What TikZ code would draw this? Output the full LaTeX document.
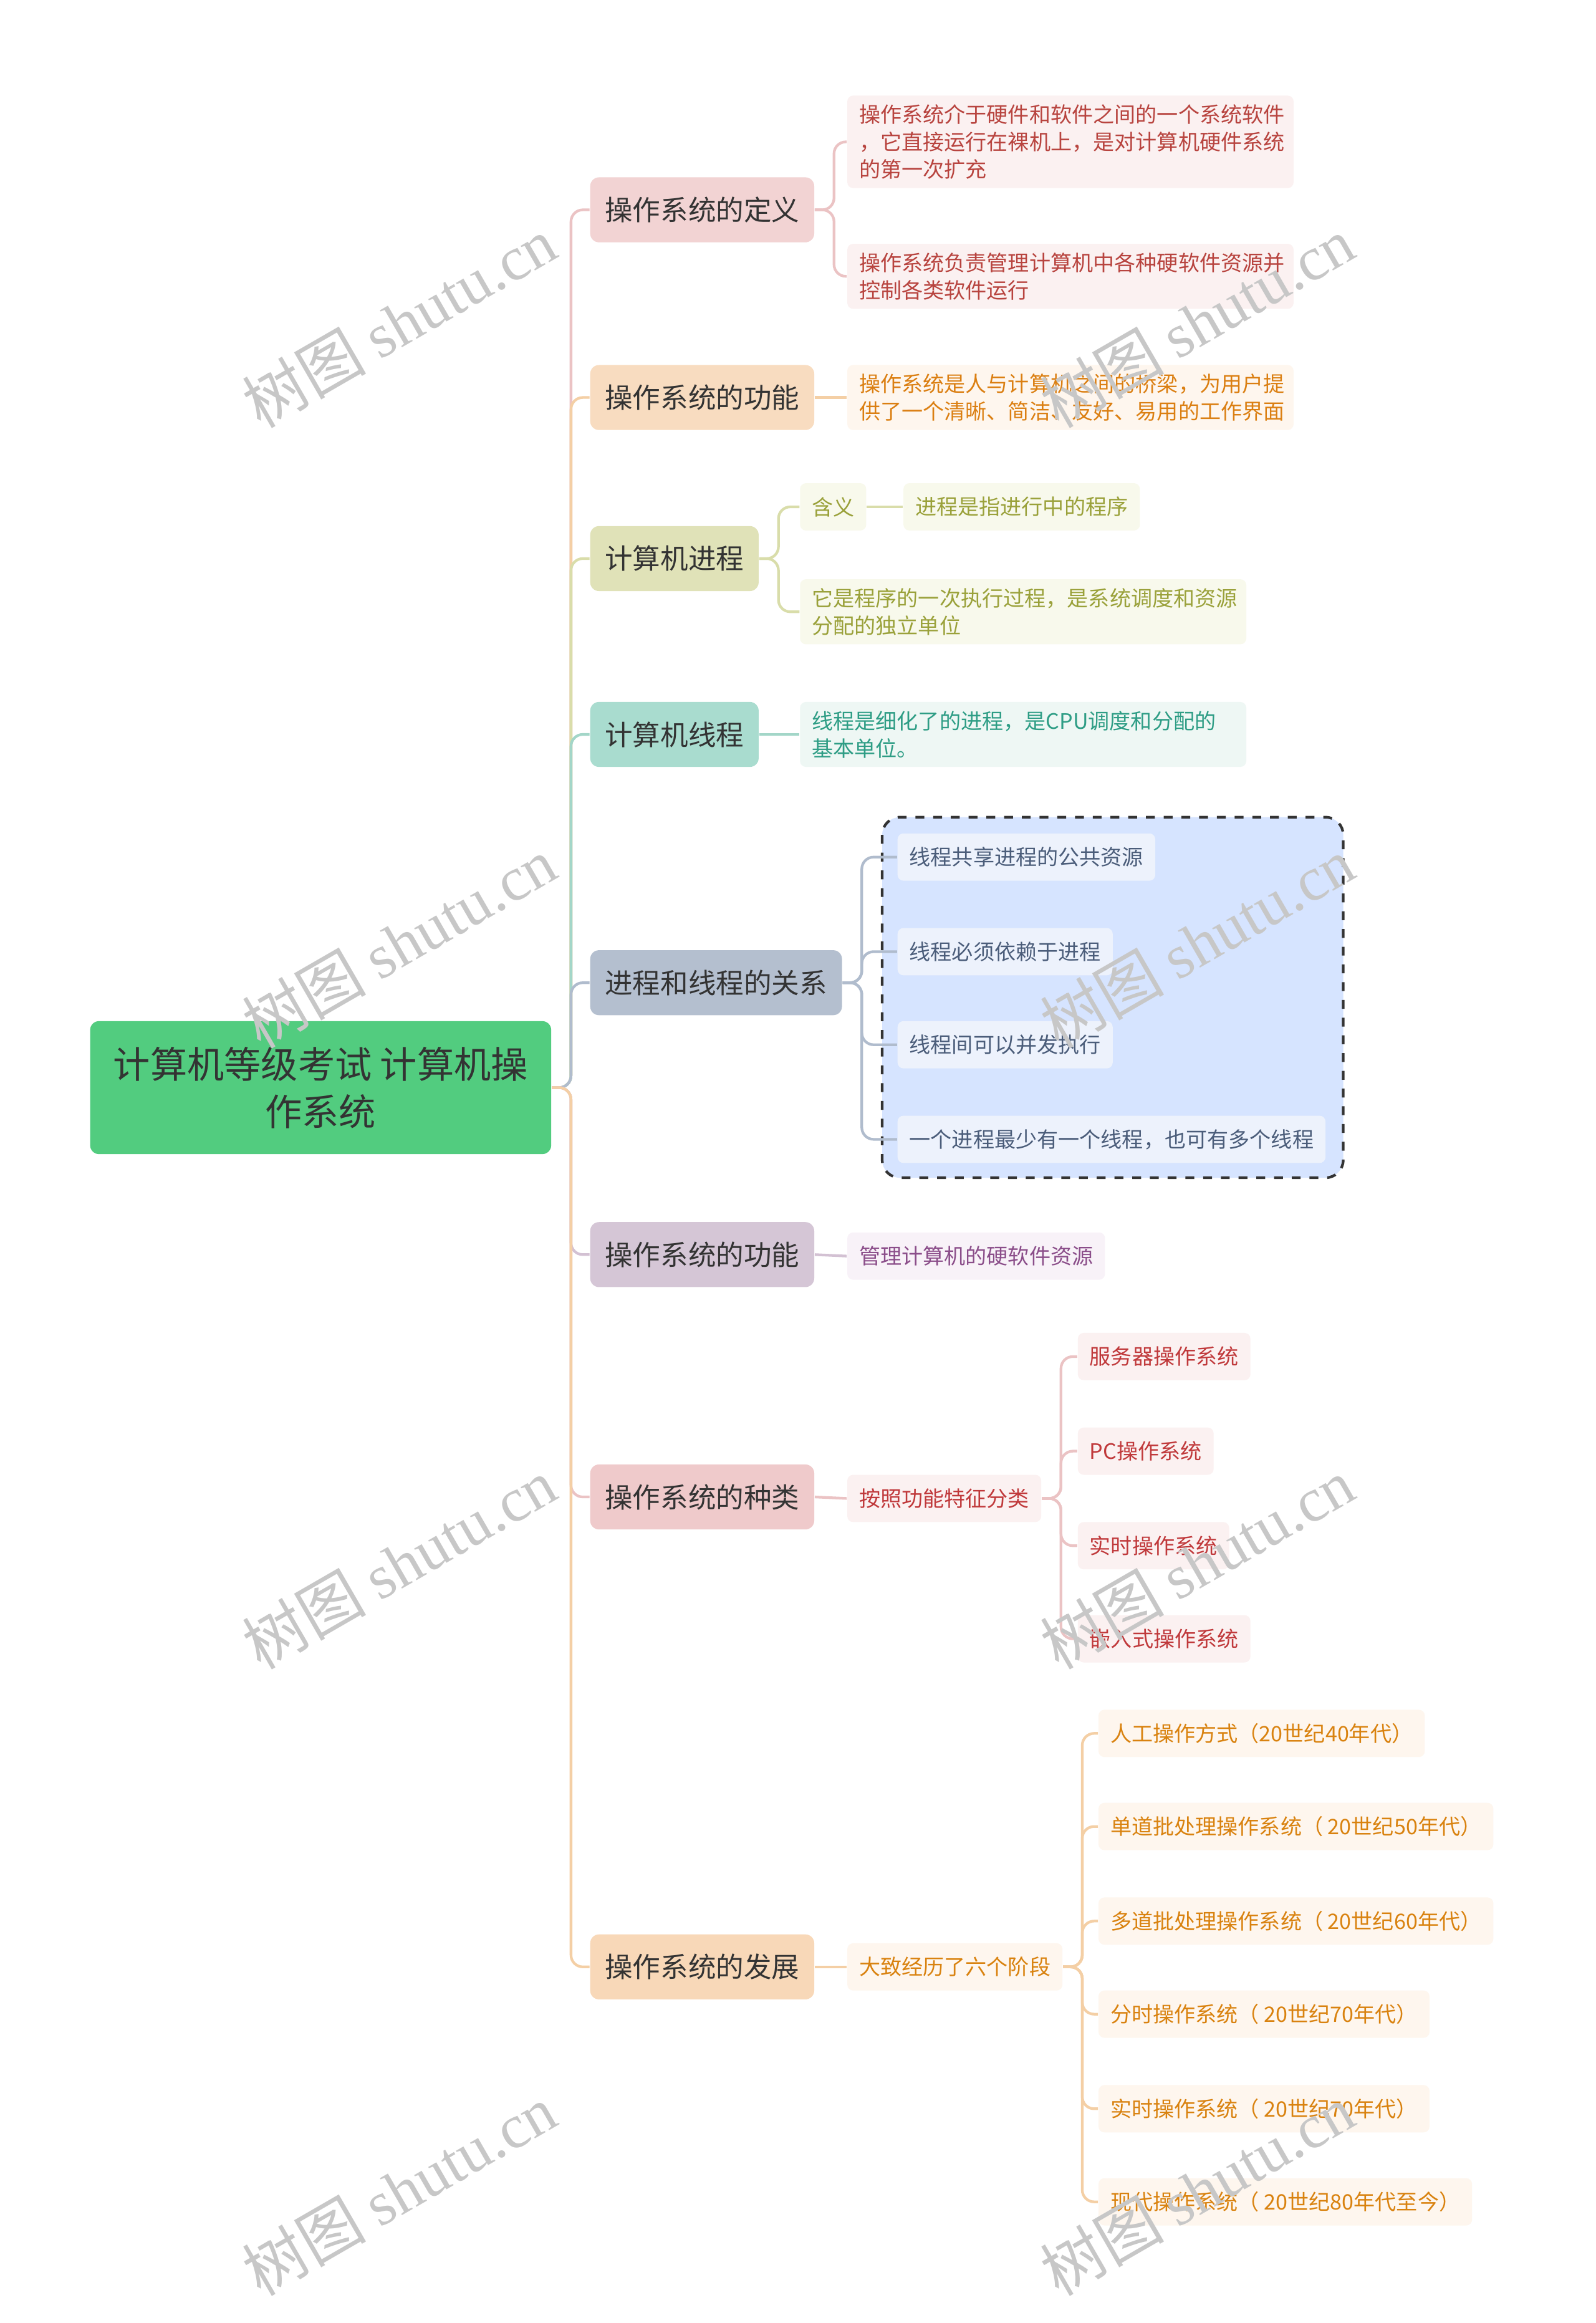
\documentclass[tikz,border=0pt]{standalone}
\usepackage{fontspec}
\setmainfont{Noto Sans CJK SC}
\newfontfamily\wmserif{Liberation Serif}
\definecolor{rootg}{HTML}{52CC7F}
\definecolor{fA}{HTML}{F2D3D3}\definecolor{lA}{HTML}{EBC3C4}\definecolor{tA}{HTML}{B8443F}\definecolor{bA}{HTML}{FBF1F1}
\definecolor{fB}{HTML}{F8DCC0}\definecolor{lB}{HTML}{F4CFA5}\definecolor{tB}{HTML}{DB7F12}\definecolor{bB}{HTML}{FEF6EE}
\definecolor{fC}{HTML}{E0E2B8}\definecolor{lC}{HTML}{D9DDAA}\definecolor{tC}{HTML}{9AA13A}\definecolor{bC}{HTML}{F8F9EC}
\definecolor{fD}{HTML}{A9DCCF}\definecolor{lD}{HTML}{A3D6C8}\definecolor{tD}{HTML}{2E9D85}\definecolor{bD}{HTML}{EEF7F4}
\definecolor{fE}{HTML}{B4BFCF}\definecolor{lE}{HTML}{B0BCCD}\definecolor{tE}{HTML}{4B5D7A}\definecolor{bE}{HTML}{EDF2FC}\definecolor{grp}{HTML}{D6E4FF}
\definecolor{fF}{HTML}{D5C6D6}\definecolor{lF}{HTML}{D3C1D3}\definecolor{tF}{HTML}{8B4E8A}\definecolor{bF}{HTML}{F8F2F8}
\definecolor{fG}{HTML}{EFCACB}\definecolor{lG}{HTML}{EBC3C4}\definecolor{tG}{HTML}{C0393B}\definecolor{bG}{HTML}{FBF1F1}
\definecolor{fH}{HTML}{F8D8B8}\definecolor{lH}{HTML}{F4CFA5}\definecolor{tH}{HTML}{D9820F}\definecolor{bH}{HTML}{FEF6EE}
\tikzset{
 child/.style={anchor=west,rounded corners=3pt,minimum height=22pt,inner xsep=5pt,font=\fontsize{9.4}{11}\selectfont,text=black!80},
 leaf/.style={anchor=west,rounded corners=2pt,minimum height=16pt,inner xsep=4pt,inner ysep=3pt,font=\fontsize{7.2}{9.3}\selectfont,align=left},
 conn/.style={line width=0.9pt,rounded corners=4pt},
 wm/.style={text=black!22,font=\fontsize{21}{21}\selectfont,rotate=30}
}
\begin{document}
\begin{tikzpicture}[x=0.5pt,y=-0.5pt]
\useasboundingbox (0,0) rectangle (1080,1572);
\fill[white] (0,0) rectangle (1080,1572);
\draw[fill=grp,dashed,line width=0.9pt,rounded corners=6pt,draw=black!80] (597,553) rectangle (909,797);
\node[fill=rootg,rounded corners=3pt,minimum width=156pt,minimum height=45pt,align=center,font=\fontsize{12.5}{16}\selectfont,text=black!80] (root) at (217,736) {计算机等级考试 计算机操\\作系统};
\node[child,fill=fA] (c1) at (399,142) {操作系统的定义};
\node[child,fill=fB] (c2) at (399,269) {操作系统的功能};
\node[child,fill=fC] (c3) at (399,378) {计算机进程};
\node[child,fill=fD] (c4) at (399,497) {计算机线程};
\node[child,fill=fE] (c5) at (399,665) {进程和线程的关系};
\node[child,fill=fF] (c6) at (399,849) {操作系统的功能};
\node[child,fill=fG] (c7) at (399,1013) {操作系统的种类};
\node[child,fill=fH] (c8) at (399,1331) {操作系统的发展};
\foreach \c/\l in {c1/lA,c2/lB,c3/lC,c4/lD,c5/lE,c6/lF,c7/lG,c8/lH}
  \draw[conn,draw=\l] (root.east) -- ++(13,0) |- (\c.west);
\node[leaf,fill=bA,text=tA,text width=143pt] (a1) at (573,96) {操作系统介于硬件和软件之间的一个系统软件\\，它直接运行在裸机上，是对计算机硬件系统\\的第一次扩充};
\node[leaf,fill=bA,text=tA,text width=143pt] (a2) at (573,187) {操作系统负责管理计算机中各种硬软件资源并\\控制各类软件运行};
\foreach \n in {a1,a2} \draw[conn,draw=lA] (c1.east) -- ++(13,0) |- (\n.west);
\node[leaf,fill=bB,text=tB,text width=143pt] (b1) at (573,269) {操作系统是人与计算机之间的桥梁，为用户提\\供了一个清晰、简洁、友好、易用的工作界面};
\draw[conn,draw=lB] (c2.east) -- (b1.west);
\node[leaf,fill=bC,text=tC] (k1) at (541,343) {含义};
\node[leaf,fill=bC,text=tC] (k2) at (611,343) {进程是指进行中的程序};
\node[leaf,fill=bC,text=tC,text width=143pt] (k3) at (541,414) {它是程序的一次执行过程，是系统调度和资源\\分配的独立单位};
\foreach \n in {k1,k3} \draw[conn,draw=lC] (c3.east) -- ++(13,0) |- (\n.west);
\draw[conn,draw=lC] (k1.east) -- (k2.west);
\node[leaf,fill=bD,text=tD,text width=143pt] (d1) at (541,497) {线程是细化了的进程，是CPU调度和分配的\\基本单位。};
\draw[conn,draw=lD] (c4.east) -- (d1.west);
\node[leaf,fill=bE,text=tE] (e1) at (607,580) {线程共享进程的公共资源};
\node[leaf,fill=bE,text=tE] (e2) at (607,644) {线程必须依赖于进程};
\node[leaf,fill=bE,text=tE] (e3) at (607,707) {线程间可以并发执行};
\node[leaf,fill=bE,text=tE] (e4) at (607,771) {一个进程最少有一个线程，也可有多个线程};
\foreach \n in {e1,e2,e3,e4} \draw[conn,draw=lE] (c5.east) -- ++(13,0) |- (\n.west);
\node[leaf,fill=bF,text=tF] (f1) at (573,850) {管理计算机的硬软件资源};
\draw[conn,draw=lF] (c6.east) -- (f1.west);
\node[leaf,fill=bG,text=tG] (g0) at (573,1014) {按照功能特征分类};
\draw[conn,draw=lG] (c7.east) -- (g0.west);
\node[leaf,fill=bG,text=tG] (g1) at (729,918) {服务器操作系统};
\node[leaf,fill=bG,text=tG] (g2) at (729,982) {PC操作系统};
\node[leaf,fill=bG,text=tG] (g3) at (729,1046) {实时操作系统};
\node[leaf,fill=bG,text=tG] (g4) at (729,1109) {嵌入式操作系统};
\foreach \n in {g1,g2,g3,g4} \draw[conn,draw=lG] (g0.east) -- ++(13,0) |- (\n.west);
\node[leaf,fill=bH,text=tH] (h0) at (573,1331) {大致经历了六个阶段};
\draw[conn,draw=lH] (c8.east) -- (h0.west);
\node[leaf,fill=bH,text=tH] (h1) at (743,1173) {人工操作方式（20世纪40年代）};
\node[leaf,fill=bH,text=tH] (h2) at (743,1236) {单道批处理操作系统（ 20世纪50年代）};
\node[leaf,fill=bH,text=tH] (h3) at (743,1300) {多道批处理操作系统（ 20世纪60年代）};
\node[leaf,fill=bH,text=tH] (h4) at (743,1363) {分时操作系统（ 20世纪70年代）};
\node[leaf,fill=bH,text=tH] (h5) at (743,1427) {实时操作系统（ 20世纪70年代）};
\node[leaf,fill=bH,text=tH] (h6) at (743,1490) {现代操作系统（ 20世纪80年代至今）};
\foreach \n in {h1,h2,h3,h4,h5,h6} \draw[conn,draw=lH] (h0.east) -- ++(13,0) |- (\n.west);
\foreach \x/\y [count=\i] in {270/218,270/638,270/1058,270/1482,810/218,810/638,810/1058,810/1482}
  \node[wm] (w\i) at (\x,\y) {树图 {\wmserif shutu.cn}};
\end{tikzpicture}
\end{document}
